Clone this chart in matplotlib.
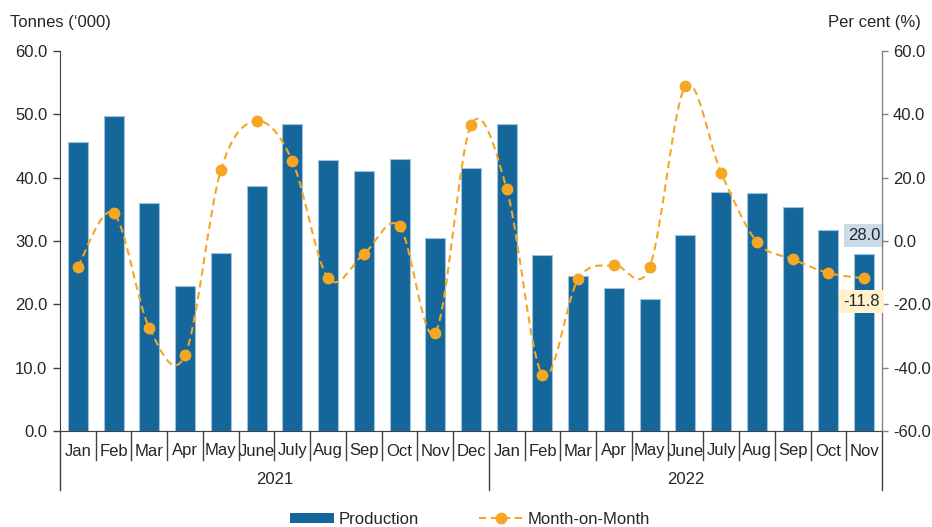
import matplotlib
matplotlib.use("Agg")
import matplotlib.pyplot as plt
from matplotlib.path import Path
from matplotlib.patches import PathPatch
from matplotlib.lines import Line2D
from matplotlib.patches import Patch
import matplotlib.transforms as mtransforms

plt.rcParams['font.family'] = ['Liberation Sans', 'DejaVu Sans']

# ---- data ----
months = ['Jan', 'Feb', 'Mar', 'Apr', 'May', 'June', 'July', 'Aug', 'Sep', 'Oct', 'Nov', 'Dec',
          'Jan', 'Feb', 'Mar', 'Apr', 'May', 'June', 'July', 'Aug', 'Sep', 'Oct', 'Nov']
years = ['2021', '2022']
year_spans = [(0, 11), (12, 22)]

production = [45.7, 49.8, 36.0, 22.9, 28.1, 38.7, 48.5, 42.8, 41.1, 42.9, 30.5, 41.5,
              48.5, 27.8, 24.5, 22.6, 20.8, 30.9, 37.7, 37.6, 35.4, 31.7, 28.0]
mom = [-8.2, 8.8, -27.5, -36.0, 22.4, 37.9, 25.3, -11.7, -4.1, 4.7, -29.0, 36.6,
       16.4, -42.3, -12.0, -7.6, -8.2, 48.9, 21.5, -0.3, -5.7, -10.1, -11.8]

BAR_COLOR = '#15669A'
LINE_COLOR = '#F5A623'
TEXT_COLOR = '#262626'
FS = 12

fig = plt.figure(figsize=(9.32, 5.27), dpi=100)
ax = fig.add_axes([60 / 932, 96 / 527, 822 / 932, 380 / 527])
ax2 = ax.twinx()

x = list(range(len(months)))
ax.bar(x, production, width=0.56, color=BAR_COLOR, edgecolor='#9CC2DE', linewidth=0.8, zorder=2)

ax.set_xlim(-0.5, len(months) - 0.5)
ax.set_ylim(0, 60)
ax.set_yticks([0, 10, 20, 30, 40, 50, 60])
ax.set_yticklabels([f'{v:.1f}' for v in range(0, 61, 10)])
ax.set_xticks([])

ax2.set_ylim(-60, 60)
ax2.set_yticks(list(range(-60, 61, 20)))
ax2.set_yticklabels([f'{v:.1f}' for v in range(-60, 61, 20)])

for a in (ax, ax2):
    a.spines['top'].set_visible(False)
    a.tick_params(axis='y', direction='out', length=5, width=1, labelsize=FS,
                  labelcolor=TEXT_COLOR, pad=4)
ax.spines['left'].set_color('#404040')
ax.spines['bottom'].set_color('#404040')
ax2.spines['right'].set_color('#808080')
ax2.spines['left'].set_visible(False)
ax2.spines['bottom'].set_visible(False)
ax.tick_params(axis='y', colors='#404040', labelcolor=TEXT_COLOR)
ax2.tick_params(axis='y', colors='#808080', labelcolor=TEXT_COLOR, length=4)

# smoothed month-on-month line drawn as cubic Bezier segments
verts = [(x[0], mom[0])]
codes = [Path.MOVETO]
n = len(mom)
for i in range(n - 1):
    p0 = (x[i - 1], mom[i - 1]) if i > 0 else (x[i], mom[i])
    p1 = (x[i], mom[i])
    p2 = (x[i + 1], mom[i + 1])
    p3 = (x[i + 2], mom[i + 2]) if i + 2 < n else p2
    c1 = (p1[0] + (p2[0] - p0[0]) / 6, p1[1] + (p2[1] - p0[1]) / 6)
    c2 = (p2[0] - (p3[0] - p1[0]) / 6, p2[1] - (p3[1] - p1[1]) / 6)
    verts += [c1, c2, p2]
    codes += [Path.CURVE4] * 3
curve = PathPatch(Path(verts, codes), facecolor='none', edgecolor=LINE_COLOR,
                  linewidth=1.5, linestyle=(0, (3.5, 2.2)), zorder=3)
ax2.add_patch(curve)
ax2.plot(x, mom, linestyle='none', marker='o', markersize=7.5, color=LINE_COLOR, zorder=4)

# data labels on the last month
ax.annotate(f'{production[-1]:.1f}', (x[-1], production[-1]), xytext=(0, 13),
            textcoords='offset points', ha='center', va='center', fontsize=FS,
            color=TEXT_COLOR, zorder=5,
            bbox=dict(boxstyle='square,pad=0.25', facecolor='#CADCEA', edgecolor='none'))
ax2.annotate(f'{mom[-1]:.1f}', (x[-1], mom[-1]), xytext=(-2, -16.5),
             textcoords='offset points', ha='center', va='center', fontsize=FS,
             color=TEXT_COLOR, zorder=5,
             bbox=dict(boxstyle='square,pad=0.25', facecolor='#FFF2CC', edgecolor='none'))

# category axis: month labels, separators, year labels
trans = mtransforms.blended_transform_factory(ax.transData, ax.transAxes)
px = 1 / 380  # one pixel in axes height
for i, m in enumerate(months):
    ax.text(i, -20 * px, m, transform=trans, ha='center', va='center',
            fontsize=FS, color=TEXT_COLOR)
year_edges = [-0.5, 11.5, 22.5]
for i in range(len(months) + 1):
    edge = i - 0.5
    bottom = -59 * px if edge in year_edges else -29 * px
    ax.add_line(Line2D([edge, edge], [0, bottom], transform=trans, color='#404040',
                       linewidth=1, clip_on=False))
for yr, (a, b) in zip(years, year_spans):
    ax.text((a + b) / 2, -49 * px, yr, transform=trans, ha='center', va='center',
            fontsize=FS, color=TEXT_COLOR)

# axis titles
fig.text(10 / 932, 1 - 22 / 527, "Tonnes (\u2018000)", ha='left', va='center',
         fontsize=FS, color=TEXT_COLOR)
fig.text(921 / 932, 1 - 22 / 527, 'Per cent (%)', ha='right', va='center',
         fontsize=FS, color=TEXT_COLOR)

handles = [Patch(facecolor=BAR_COLOR, edgecolor='none'),
           Line2D([0], [0], color=LINE_COLOR, linestyle=(0, (3.5, 2.2)), linewidth=1.5,
                  marker='o', markersize=7.5)]
fig.legend(handles, ['Production', 'Month-on-Month'], loc='center',
           bbox_to_anchor=(470 / 932, 1 - 519 / 527), ncol=2, frameon=False,
           fontsize=FS, handlelength=2.6, handleheight=0.55, columnspacing=3.6,
           handletextpad=0.3, numpoints=1, labelcolor=TEXT_COLOR)

fig.savefig('out.png', dpi=100)
